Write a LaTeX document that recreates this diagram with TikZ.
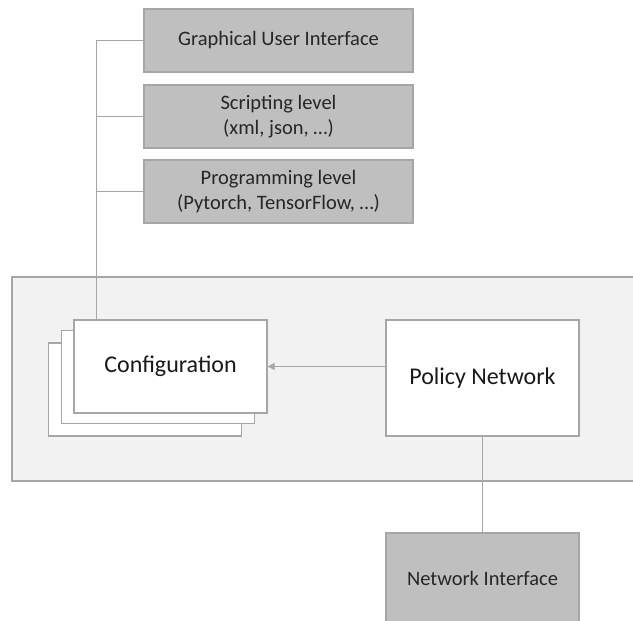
\documentclass[tikz,border=0pt]{standalone}
\usepackage{fontspec}
\setmainfont{Carlito}
\usetikzlibrary{arrows.meta}
\definecolor{boxgray}{HTML}{BFBFBF}
\definecolor{linegray}{HTML}{A6A6A6}
\definecolor{panelgray}{HTML}{F2F2F2}

\begin{document}
\begin{tikzpicture}[x=1pt,y=-1pt,draw=linegray,line width=1pt]
				\tikzstyle{level}=[rectangle,draw=linegray,line width=1.3pt,fill=boxgray,minimum width=269pt,minimum height=63pt,inner sep=0pt,align=center,text=black!85,font=\fontsize{20.5}{25}\selectfont]
				\tikzstyle{page}=[rectangle,draw=linegray,line width=1.3pt,fill=white,minimum width=193pt,minimum height=93pt,inner sep=0pt,text=black!90,font=\fontsize{24}{28}\selectfont]
				\tikzstyle{panel}=[rectangle,draw=linegray,line width=1.3pt,fill=panelgray,minimum width=633pt,minimum height=204pt,inner sep=0pt]
				\useasboundingbox (0,0) rectangle (633,621);
				
				% Draw the container
				\node[panel] (sys) at (328.5,379) {};
				
				% Draw the upper levels
				\foreach \name / \y / \txt in {1/40.5/{Graphical User Interface},2/116.5/{Scripting level\\(xml, json, …)},3/191.5/{Programming level\\(Pytorch, TensorFlow, …)}}
				\node[level] (L-\name) at (278.5,\y) {\txt};
				
				% Draw the configuration stack
				\node[page] (conf-3) at (145,389.5) {};
				\node[page] (conf-2) at (158,377) {};
				\node[page] (conf-1) at (170.5,366.5) {Configuration};
				
				% Draw the policy network and the interface
				\node[page,minimum height=116pt] (policy) at (482.5,378) {Policy Network};
				\node[level,minimum width=193pt,minimum height=90pt] (net) at (482.5,578) {Network Interface};
				
				% Connect levels
				\coordinate (bus) at ([xshift=23pt]conf-1.north west);
				\draw (L-1.west) -| (bus);
				\foreach \name in {2,3}
				\draw (L-\name.west) -- (L-\name.west -| bus);
				
				% Connect policy
				\draw[-{Triangle[width=7pt,length=7pt]}] (policy.west |- conf-1.east) -- (conf-1.east);
				\draw (policy.south) -- (net.north);
				
			\end{tikzpicture}
\end{document}
